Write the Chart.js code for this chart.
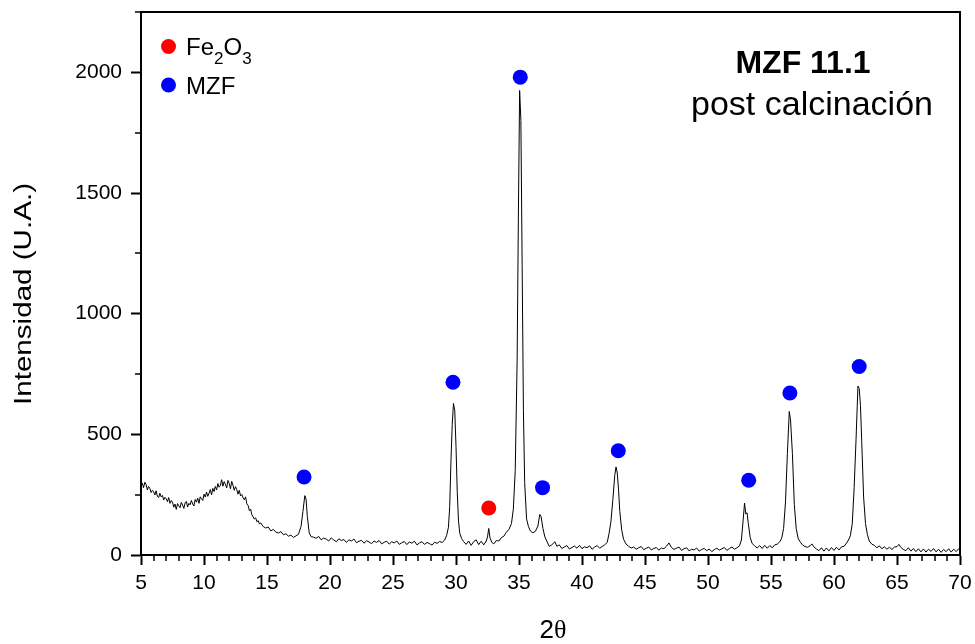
<!DOCTYPE html>
<html><head><meta charset="utf-8">
<script src="https://cdn.jsdelivr.net/npm/chart.js@4.4.1/dist/chart.umd.min.js"></script>
<style>html,body{margin:0;padding:0;background:#fff;}canvas{display:block;}</style>
</head><body>
<canvas id="c" width="975" height="644"></canvas>
<script>
// ---------- data ----------
const xTicks = [5,10,15,20,25,30,35,40,45,50,55,60,65,70];
const xMinorTicks = [6,7,8,9,11,12,13,14,16,17,18,19,21,22,23,24,26,27,28,29,31,32,33,34,36,37,38,39,41,42,43,44,46,47,48,49,51,52,53,54,56,57,58,59,61,62,63,64,66,67,68,69];
const yTicks = [0,500,1000,1500,2000];
const yMinorTicks = [250,750,1250,1750,2250];

const xTitle = ['2','θ'];
const yTitle = 'Intensidad (U.A.)';
const sampleTitle = ['MZF 11.1','post calcinación'];
const legendFe2O3 = [['Fe',0],['2',1],['O',0],['3',1]];
const legendMZF = [['MZF',0]];

// XRD scan: [2θ, intensity]
const scan = [
[5.0,285],[5.1,298],[5.2,279],[5.3,301],[5.4,293],[5.5,270],[5.6,284],[5.7,276],[5.8,259],[5.9,268],
[6.0,262],[6.1,249],[6.2,266],[6.3,244],[6.4,238],[6.5,256],[6.6,241],[6.7,247],[6.8,228],[6.9,239],
[7.0,233],[7.1,221],[7.2,238],[7.3,214],[7.4,226],[7.5,219],[7.6,198],[7.7,211],[7.8,189],[7.9,213],
[8.0,204],[8.1,196],[8.2,218],[8.3,207],[8.4,193],[8.5,216],[8.6,222],[8.7,199],[8.8,214],[8.9,208],
[9.0,226],[9.1,211],[9.2,203],[9.3,230],[9.4,219],[9.5,236],[9.6,214],[9.7,241],[9.8,233],[9.9,226],
[10.0,252],[10.1,240],[10.2,261],[10.3,243],[10.4,256],[10.5,271],[10.6,249],[10.7,276],[10.8,263],[10.9,284],
[11.0,270],[11.1,296],[11.2,281],[11.3,288],[11.4,312],[11.5,285],[11.6,304],[11.7,293],[11.8,278],[11.9,309],
[12.0,297],[12.1,274],[12.2,305],[12.3,289],[12.4,268],[12.5,283],[12.6,271],[12.7,252],[12.8,268],[12.9,245],
[13.0,251],[13.1,237],[13.2,229],[13.3,241],[13.4,212],[13.5,205],[13.6,184],[13.7,190],[13.8,166],[13.9,158],
[14.0,149],[14.1,154],[14.2,138],[14.3,142],[14.4,129],[14.5,133],[14.7,118],[14.9,112],
[15.1,116],[15.3,100],[15.5,106],[15.7,95],[15.9,91],[16.1,97],[16.3,84],[16.5,88],[16.7,78],[16.9,82],
[17.1,73],[17.3,79],[17.5,86],[17.7,118],[17.85,180],[18.0,246],[18.1,232],[18.2,160],[18.35,92],[18.5,76],
[18.7,74],[18.9,69],[19.1,77],[19.3,63],[19.5,70],[19.7,66],[19.9,58],[20.1,71],[20.3,62],[20.5,55],
[20.7,67],[20.9,60],[21.1,64],[21.3,52],[21.5,63],[21.7,58],[21.9,66],[22.1,51],[22.3,57],[22.5,61],
[22.7,49],[22.9,59],[23.1,54],[23.3,47],[23.5,58],[23.7,52],[23.9,60],[24.1,46],[24.3,53],[24.5,57],
[24.7,45],[24.9,55],[25.1,50],[25.3,58],[25.5,44],[25.7,51],[25.9,56],[26.1,43],[26.3,54],[26.5,49],
[26.7,57],[26.9,42],[27.1,50],[27.3,55],[27.5,44],[27.7,52],[27.9,47],[28.1,41],[28.3,53],[28.5,48],
[28.7,56],[28.9,52],[29.1,62],[29.25,80],[29.4,115],[29.5,200],[29.6,390],[29.7,540],[29.8,628],[29.9,600],
[30.0,450],[30.1,260],[30.2,140],[30.3,90],[30.45,68],[30.6,56],[30.8,44],[31.0,58],[31.2,40],[31.4,55],
[31.6,63],[31.8,43],[32.0,57],[32.2,42],[32.4,58],[32.5,75],[32.6,110],[32.7,70],[32.85,52],[33.0,46],
[33.2,60],[33.4,58],[33.6,72],[33.8,78],[34.0,94],[34.2,106],[34.4,130],[34.55,190],[34.7,350],[34.85,800],
[34.95,1400],[35.05,1925],[35.15,1800],[35.25,1200],[35.35,600],[35.45,300],[35.6,150],[35.75,118],[35.9,100],[36.1,92],
[36.3,98],[36.5,120],[36.65,168],[36.75,160],[36.9,110],[37.05,75],[37.2,58],[37.4,36],[37.6,42],[37.85,55],
[38.0,36],[38.2,42],[38.4,27],[38.6,33],[38.8,39],[39.0,25],[39.2,31],[39.4,37],[39.6,28],[39.8,40],
[40.0,26],[40.2,34],[40.4,30],[40.6,38],[40.8,24],[41.0,33],[41.2,39],[41.4,28],[41.6,35],[41.8,42],
[42.0,52],[42.15,90],[42.3,140],[42.45,230],[42.6,330],[42.7,365],[42.8,340],[42.9,270],[43.0,180],[43.15,104],
[43.3,65],[43.5,45],[43.7,36],[43.9,29],[44.1,33],[44.3,24],[44.5,30],[44.7,35],[44.9,22],[45.1,28],
[45.3,33],[45.5,21],[45.7,27],[45.9,31],[46.1,20],[46.3,29],[46.5,26],[46.7,36],[46.9,50],[47.1,31],
[47.3,23],[47.5,28],[47.7,33],[47.9,19],[48.1,26],[48.3,30],[48.5,17],[48.7,24],[48.9,21],[49.1,29],
[49.3,16],[49.5,23],[49.7,27],[49.9,18],[50.1,25],[50.3,14],[50.5,22],[50.7,28],[50.9,20],[51.1,26],
[51.3,31],[51.5,19],[51.7,27],[51.9,33],[52.1,24],[52.3,30],[52.5,38],[52.65,62],[52.8,150],[52.9,215],
[53.0,170],[53.1,175],[53.2,130],[53.35,72],[53.5,48],[53.7,38],[53.9,29],[54.1,39],[54.3,27],[54.5,40],
[54.7,28],[54.9,39],[55.1,30],[55.3,42],[55.5,45],[55.7,55],[55.85,70],[56.0,110],[56.15,220],[56.3,420],
[56.45,595],[56.55,560],[56.7,420],[56.85,210],[57.0,110],[57.15,70],[57.3,55],[57.5,42],[57.7,35],[57.9,32],
[58.1,38],[58.25,46],[58.4,34],[58.6,25],[58.8,18],[59.0,30],[59.2,16],[59.4,29],[59.6,17],[59.8,31],
[60.0,19],[60.2,32],[60.4,21],[60.6,34],[60.8,36],[61.0,50],[61.15,62],[61.3,80],[61.45,130],[61.6,280],
[61.75,480],[61.9,700],[62.0,690],[62.1,620],[62.2,470],[62.35,240],[62.5,130],[62.65,85],[62.8,58],[63.0,45],
[63.2,40],[63.4,30],[63.6,38],[63.8,26],[64.0,34],[64.2,24],[64.4,32],[64.6,23],[64.8,33],[65.0,35],
[65.15,44],[65.3,32],[65.5,23],[65.7,18],[65.9,30],[66.1,16],[66.3,27],[66.5,14],[66.7,26],[66.9,13],
[67.1,25],[67.3,12],[67.5,24],[67.7,15],[67.9,27],[68.1,13],[68.3,24],[68.5,11],[68.7,23],[68.9,14],
[69.1,26],[69.3,12],[69.5,24],[69.7,14],[69.9,26],[70.0,18]
];

// phase markers: [2θ, marker height]
const mzfPeaks = [[17.94,323],[29.76,716],[35.1,1980],[36.87,279],[42.88,432],[53.23,310],[56.5,671],[62.0,781]];
const fe2o3Peaks = [[32.6,195]];

// ---------- chart ----------
const SANS = "'Liberation Sans', Arial, Helvetica, sans-serif";
const SERIF = "'Liberation Serif', 'Times New Roman', serif";
const BLUE = '#0000ff', RED = '#ff0000';

const toPts = arr => arr.map(([x, y]) => ({x, y}));

const annotate = {
  id: 'annotate',
  afterDraw(chart) {
    const {ctx, chartArea: a, scales: {x, y}} = chart;
    ctx.save();
    ctx.strokeStyle = '#000';
    ctx.lineWidth = 2;
    ctx.beginPath();
    ctx.moveTo(a.left - 1, a.top);
    ctx.lineTo(a.right, a.top);
    ctx.lineTo(a.right, a.bottom + 1);
    ctx.stroke();

    // minor ticks
    ctx.lineWidth = 1.5;
    xMinorTicks.forEach(v => {
      const px = Math.round(x.getPixelForValue(v));
      ctx.beginPath(); ctx.moveTo(px, a.bottom); ctx.lineTo(px, a.bottom + 6); ctx.stroke();
    });
    yMinorTicks.forEach(v => {
      const py = Math.round(y.getPixelForValue(v));
      ctx.beginPath(); ctx.moveTo(a.left, py); ctx.lineTo(a.left - 6, py); ctx.stroke();
    });

    ctx.fillStyle = '#000';
    ctx.textBaseline = 'alphabetic';

    // y title
    ctx.save();
    ctx.font = '23px ' + SANS;
    const yw = ctx.measureText(yTitle).width;
    const targetLen = 222;
    ctx.translate(31, 294);
    ctx.rotate(-Math.PI / 2);
    ctx.scale(targetLen / yw, 1);
    ctx.textAlign = 'center';
    ctx.fillText(yTitle, 0, 0);
    ctx.restore();

    // x title: "2" sans + theta serif
    ctx.textAlign = 'left';
    ctx.font = '26px ' + SANS;
    const w2 = ctx.measureText(xTitle[0]).width;
    ctx.font = '26px ' + SERIF;
    const wt = ctx.measureText(xTitle[1]).width;
    const tx = 553 - (w2 + wt) / 2;
    ctx.font = '26px ' + SANS;
    ctx.fillText(xTitle[0], tx, 638);
    ctx.font = '26px ' + SERIF;
    ctx.fillText(xTitle[1], tx + w2, 638);

    // legend
    const drawParts = (parts, x0, base) => {
      let cx = x0;
      parts.forEach(([t, sub]) => {
        ctx.font = (sub ? '17px ' : '24px ') + SANS;
        ctx.fillText(t, cx, base + (sub ? 9 : 0));
        cx += ctx.measureText(t).width;
      });
    };
    ctx.fillStyle = RED;
    ctx.beginPath(); ctx.arc(168.5, 46.5, 7.5, 0, Math.PI * 2); ctx.fill();
    ctx.fillStyle = BLUE;
    ctx.beginPath(); ctx.arc(168.5, 85, 7.5, 0, Math.PI * 2); ctx.fill();
    ctx.fillStyle = '#000';
    drawParts(legendFe2O3, 186, 55);
    drawParts(legendMZF, 186, 93.5);

    // sample title
    ctx.textAlign = 'center';
    ctx.font = 'bold 32px ' + SANS;
    ctx.fillText(sampleTitle[0], 803, 73);
    ctx.font = '34px ' + SANS;
    ctx.fillText(sampleTitle[1], 812, 115);
    ctx.restore();
  }
};

new Chart(document.getElementById('c'), {
  type: 'scatter',
  data: {
    datasets: [
      {label: 'scan', data: toPts(scan), showLine: true, borderColor: '#000', borderWidth: 1,
       pointRadius: 0, pointHoverRadius: 0, tension: 0, order: 3},
      {label: 'MZF', data: toPts(mzfPeaks), showLine: false, pointRadius: 7.5, pointHoverRadius: 7.5,
       backgroundColor: BLUE, pointBackgroundColor: BLUE, borderWidth: 0, pointBorderWidth: 0, order: 1},
      {label: 'Fe2O3', data: toPts(fe2o3Peaks), showLine: false, pointRadius: 7.5, pointHoverRadius: 7.5,
       backgroundColor: RED, pointBackgroundColor: RED, borderWidth: 0, pointBorderWidth: 0, order: 1}
    ]
  },
  options: {
    responsive: false,
    animation: false,
    devicePixelRatio: 1,
    events: [],
    layout: {padding: {top: 12, right: 15, bottom: 0, left: 0}},
    plugins: {legend: {display: false}, tooltip: {enabled: false}, title: {display: false}},
    scales: {
      x: {
        type: 'linear', min: 5, max: 70,
        afterBuildTicks: s => { s.ticks = xTicks.map(v => ({value: v})); },
        afterFit: s => { s.height = 89; s.paddingLeft = 0; s.paddingRight = 0; },
        ticks: {color: '#000', font: {family: SANS, size: 21}, padding: 6, maxRotation: 0, autoSkip: false,
                callback: v => String(v)},
        grid: {drawOnChartArea: false, tickLength: 10, tickColor: '#000', tickWidth: 2},
        border: {color: '#000', width: 2}
      },
      y: {
        type: 'linear', min: 0, max: 2250,
        afterBuildTicks: s => { s.ticks = yTicks.map(v => ({value: v})); },
        afterFit: s => { s.width = 141; s.paddingTop = 0; s.paddingBottom = 0; },
        ticks: {color: '#000', font: {family: SANS, size: 21}, padding: 9, callback: v => String(v)},
        grid: {drawOnChartArea: false, tickLength: 10, tickColor: '#000', tickWidth: 2},
        border: {color: '#000', width: 2}
      }
    }
  },
  plugins: [annotate]
});
</script>
</body></html>
